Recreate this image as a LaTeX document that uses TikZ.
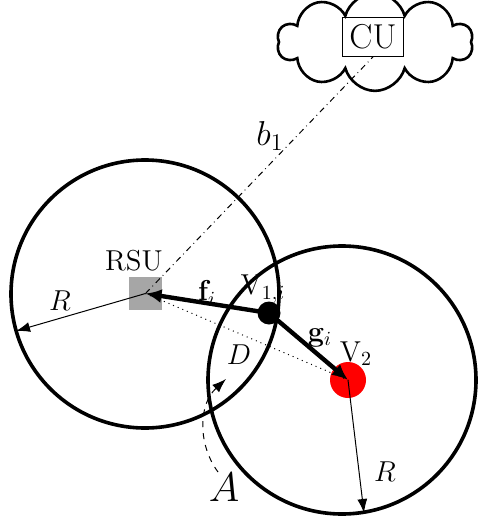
\documentclass[tikz,border=0pt]{standalone}
\usepackage{amsmath,amssymb}
\usetikzlibrary{shapes.symbols, arrows.meta, positioning}

\begin{document}
\begin{tikzpicture}[
  x=0.5pt, y=-0.5pt,
  zone/.style={draw, line width=1.8pt},
  radius line/.style={-{Latex[length=7pt,width=5pt]}, line width=0.5pt},
  link/.style={-{Latex[length=8pt,width=7pt]}, line width=2.2pt},
  lbl/.style={font=\Large, inner sep=0pt},
  dot/.style={circle, inner sep=0pt},
]
  \useasboundingbox (0,0) rectangle (479,520);

  % coverage circles
  \draw[zone] (145,294) circle[radius=134];
  \draw[zone] (342,380) circle[radius=134];

  \node[fill=black!35, minimum size=16.5pt, inner sep=0pt] (rsu) at (145.5,293.5) {};
  \node[dot, fill=black, minimum size=11.5pt] (v1) at (269,313) {};
  \node[dot, fill=red, minimum size=18pt] (v2) at (348,380) {};
  \node[cloud, draw, line width=1.3pt, cloud puffs=10, aspect=3.5, inner sep=0pt]
    (cloud) at (375,42) {\phantom{\rule{67pt}{19.4pt}}};
  \node[draw, line width=0.5pt, font=\LARGE, inner sep=3.5pt] (cu) at (373,37) {CU};

  \coordinate (r1end) at (16,331);
  \coordinate (r2end) at (364,513);
  \coordinate (atail) at (218,472);
  \coordinate (ahead) at (226,379);

  \draw[dotted, line width=0.5pt] (rsu.center) -- (v2.center);
  \draw[dash dot, line width=0.5pt] (rsu.center) -- (cu.south);
  \draw[link] (v1.center) -- (rsu.center);
  \draw[link] (v1.center) -- (v2.center);
  \draw[radius line] (rsu.center) -- (r1end);
  \draw[radius line] (v2.center) -- (r2end);
  \draw[dashed, line width=0.5pt, -{Latex[length=7pt,width=5pt]}]
    (atail) .. controls (198,445) and (198,405) .. (ahead);

  % labels
  \node[lbl] (rsulbl) at (134,261) {RSU};
  \node[lbl] (v1lbl) at (263,289) {V$_{1,i}$};
  \node[lbl] (v2lbl) at (356,354) {V$_2$};
  \node[lbl] (flbl) at (207,293) {$\mathbf{f}_i$};
  \node[lbl] (glbl) at (320,338) {$\mathbf{g}_i$};
  \node[lbl] (rlbl1) at (60,301) {$R$};
  \node[lbl] (rlbl2) at (385,472) {$R$};
  \node[lbl] (dlbl) at (239,355) {$D$};
  \node[lbl, font=\LARGE] (blbl) at (270,136) {$b_1$};
  \node[lbl, font=\huge] (albl) at (224,487) {$A$};
\end{tikzpicture}
\end{document}
